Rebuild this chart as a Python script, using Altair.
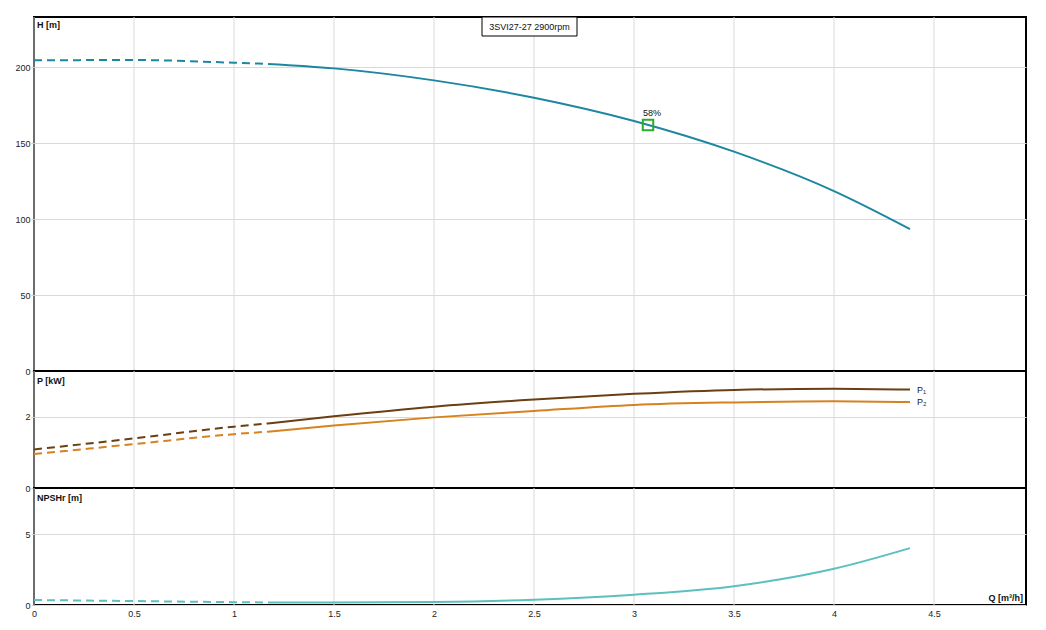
import altair as alt
import pandas as pd

# ---- data ----
Q = [0, 0.5, 1.0, 1.17, 1.5, 2.0, 2.5, 3.0, 3.5, 4.0, 4.38]
H = [204.4, 204.6, 202.8, 202.0, 199.1, 191.2, 179.8, 164.5, 144.3, 118.4, 93.4]
P1 = [1.08, 1.39, 1.72, 1.81, 2.01, 2.28, 2.48, 2.64, 2.75, 2.78, 2.76]
P2 = [0.95, 1.23, 1.51, 1.58, 1.75, 1.98, 2.16, 2.33, 2.40, 2.43, 2.41]
NPSH = [0.35, 0.28, 0.20, 0.18, 0.17, 0.21, 0.37, 0.73, 1.33, 2.56, 4.02]
Q_SPLIT = 1.17
BEP_Q = [3.07]
BEP_H = [161.8]
BEP_LABEL = ["58%"]
TITLE = ["3SVI27-27 2900rpm"]
X_TICKS = [0, 0.5, 1, 1.5, 2, 2.5, 3, 3.5, 4, 4.5]

W = 992
H_TOP, H_P, H_N = 354, 117, 117
FONT = "Liberation Sans"

xscale = alt.Scale(domain=[0, 4.96], nice=False, zero=False)


def x_enc(labels):
    if not labels:
        return alt.X("q:Q", scale=xscale, axis=None)
    return alt.X("q:Q", scale=xscale,
                 axis=alt.Axis(values=X_TICKS, labels=True, ticks=False, title=None,
                               domain=False, format="~g", labelPadding=4, grid=False,
                               labelFlush=False))


def y_enc(domain, values):
    return alt.Y("v:Q", scale=alt.Scale(domain=domain, nice=False, zero=False),
                 axis=alt.Axis(values=values, title=None, domain=False, grid=True,
                               tickSize=3, labelPadding=1))


def vgrid(labels):
    return alt.Chart(pd.DataFrame({"q": X_TICKS})).mark_rule(
        color="#d9d9d9", strokeWidth=1).encode(x=x_enc(labels))


def curves(vals, color, domain, values, labels):
    df = pd.DataFrame({"q": Q, "v": vals})
    dash = df[df.q <= Q_SPLIT]
    solid = df[df.q >= Q_SPLIT]
    enc = dict(x=x_enc(labels), y=y_enc(domain, values))
    a = alt.Chart(dash).mark_line(color=color, strokeWidth=2, interpolate="monotone",
                                  strokeDash=[8, 5]).encode(**enc)
    b = alt.Chart(solid).mark_line(color=color, strokeWidth=2,
                                   interpolate="monotone").encode(**enc)
    return [a, b]


def label(txt, x, y, align="left", bold=True):
    return alt.Chart(pd.DataFrame({"t": [txt]})).mark_text(
        align=align, baseline="middle", font=FONT, fontSize=9,
        fontWeight="bold" if bold else "normal", color="#111"
    ).encode(x=alt.value(x), y=alt.value(y), text="t:N")


# ---- top panel: H ----
HDOM = [0, 232.9]
HVALS = [0, 50, 100, 150, 200]
h_layers = curves(H, "#1d87a1", HDOM, HVALS, False)
bep_df = pd.DataFrame({"q": BEP_Q, "v": BEP_H, "t": BEP_LABEL})
bep = alt.Chart(bep_df).mark_point(shape="square", filled=False, size=110,
                                   strokeWidth=2, color="#2eaa2e", opacity=1).encode(
    x=x_enc(False), y=y_enc(HDOM, HVALS))
bep_txt = alt.Chart(bep_df).mark_text(font=FONT, fontSize=9, color="#111", dx=4, dy=-12).encode(
    x=x_enc(False), y=y_enc(HDOM, HVALS), text="t:N")
box = alt.Chart(pd.DataFrame({"t": TITLE})).mark_rect(
    fill="white", stroke="black", strokeWidth=1).encode(
    x=alt.value(448), x2=alt.value(543), y=alt.value(0), y2=alt.value(19))
box_txt = alt.Chart(pd.DataFrame({"t": TITLE})).mark_text(
    font=FONT, fontSize=9, color="#111", align="center", baseline="middle").encode(
    x=alt.value(495.5), y=alt.value(10), text="t:N")
top = alt.layer(vgrid(False), *h_layers, bep, bep_txt, box, box_txt,
                label("H [m]", 3, 8)).properties(width=W, height=H_TOP)

# ---- middle panel: P ----
PDOM = [0, 3.28]
PVALS = [0, 2]
p_layers = curves(P1, "#6a3f12", PDOM, PVALS, False) + curves(P2, "#d6821f", PDOM, PVALS, False)
pend = pd.DataFrame({"q": [Q[-1], Q[-1]], "v": [P1[-1], P2[-1]], "t": ["P\u2081", "P\u2082"]})
p_txt = alt.Chart(pend).mark_text(font=FONT, fontSize=9, color="#222", align="left", dx=7,
                                  baseline="middle").encode(
    x=x_enc(False), y=y_enc(PDOM, PVALS), text="t:N")
mid = alt.layer(vgrid(False), *p_layers, p_txt, label("P [kW]", 3, 10)).properties(
    width=W, height=H_P)

# ---- bottom panel: NPSHr ----
NDOM = [0, 8.27]
NVALS = [0, 5]
n_layers = curves(NPSH, "#5cbfc0", NDOM, NVALS, True)
bot = alt.layer(vgrid(True), *n_layers, label("NPSHr [m]", 3, 10),
                label("Q [m\u00b3/h]", W - 3, H_N - 7, align="right")).properties(
    width=W, height=H_N)

chart = alt.vconcat(top, mid, bot, spacing=0, bounds="flush").properties(
    padding={"left": 5, "top": 7, "right": 5, "bottom": 2},
    background="white",
).configure_view(stroke="black", strokeWidth=2).configure_axis(
    gridColor="#d9d9d9", gridWidth=1, labelFont=FONT, labelFontSize=9,
    labelColor="#222", tickColor="#cccccc"
).configure_concat(spacing=0)

chart.save("out.html", embed_options={"renderer": "svg", "actions": False})
